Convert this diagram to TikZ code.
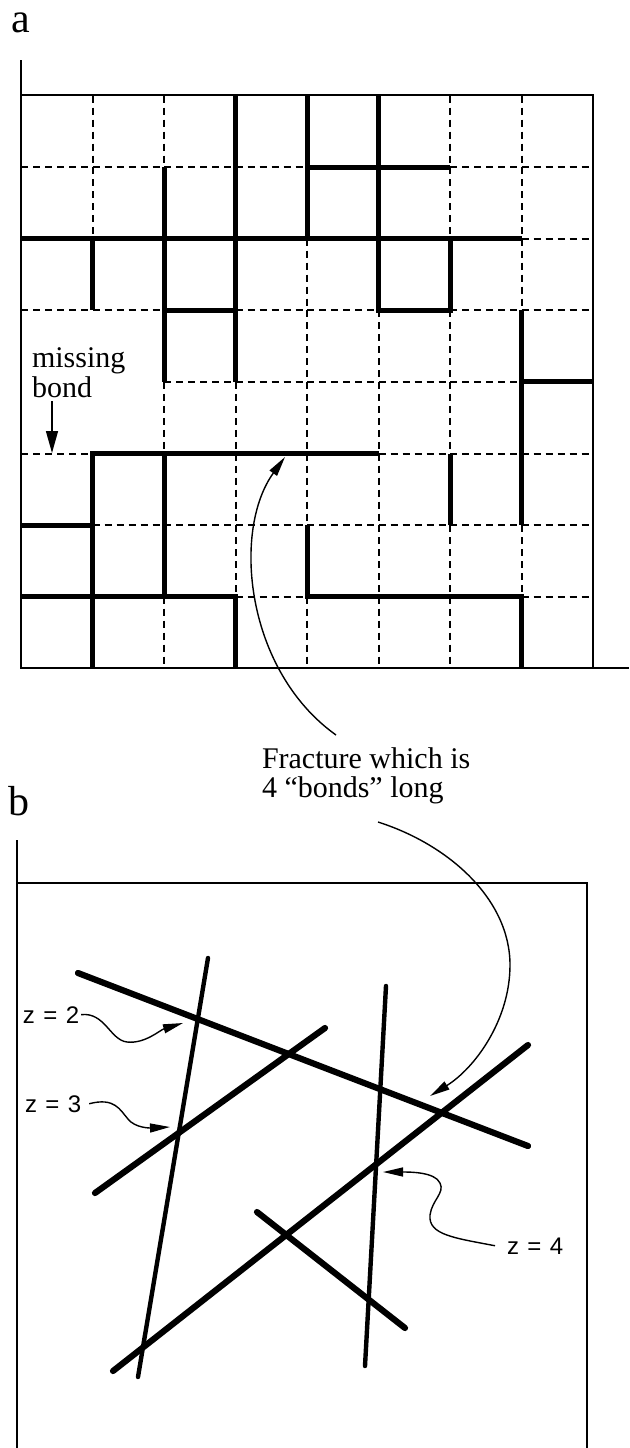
\documentclass[tikz,border=0pt]{standalone}
\usepackage{fontspec}
\setmainfont{Liberation Serif}
\newfontfamily\zfont{Liberation Sans}
\usetikzlibrary{arrows.meta}
\begin{document}
\begin{tikzpicture}[x=1pt,y=-1pt,
  frame/.style={line width=2pt},
  gdash/.style={line width=2pt, dash pattern=on 7pt off 5pt},
  gthick/.style={line width=5pt, line cap=butt, line join=miter},
  fbar/.style={line width=6.2pt, line cap=round},
  fthin/.style={line width=4.4pt, line cap=round},
  lead/.style={line width=1.4pt, -{Triangle[length=20pt,width=9pt]}},
  lab/.style={inner sep=0pt, outer sep=0pt, anchor=base west},
  big/.style={lab, font=\fontsize{42}{42}\selectfont},
  serif/.style={lab, font=\fontsize{30}{30}\selectfont},
  zlab/.style={lab, font=\zfont\fontsize{24}{24}\selectfont}
]
\useasboundingbox (0,0) rectangle (629,1448);

% ---------------- panel a ----------------
\node[big] (la) at (12,32) {a};
\draw[frame] (21,60) -- (21,668) -- (629,668);
\draw[frame] (21,95) -- (593,95) -- (593,668);

\begin{scope}[shift={(21pt,-95.5pt)}, x=71.5pt, y=-71.6pt]
  \foreach \i/\j in {0/1,1/1,2/1,3/1,6/1,7/1, 7/2, 0/3,1/3,3/3,4/3,6/3,7/3,
                     2/4,3/4,4/4,5/4,6/4, 0/5,5/5,6/5,7/5,
                     1/6,2/6,3/6,4/6,5/6,6/6,7/6, 3/7,7/7}
    \draw[gdash] (\i,\j) -- ++(1,0);
  \foreach \i/\j in {1/0,1/1, 2/0,2/4,2/7, 3/4,3/5,3/6, 4/2,4/3,4/4,4/5,4/7,
                     5/3,5/4,5/5,5/6,5/7, 6/0,6/1,6/3,6/4,6/6,6/7, 7/0,7/1,7/2,7/6}
    \draw[gdash] (\i,\j) -- ++(0,1);
  \draw[gthick] (4,1) -- (6,1);
  \draw[gthick] (0,2) -- (7,2);
  \draw[gthick] (2,3) -- (3,3);
  \draw[gthick] (5,0) -- (5,3) -- (6,3) -- (6,2);
  \draw[gthick] (7,3) -- (7,6);
  \draw[gthick] (7,4) -- (8,4);
  \draw[gthick] (1,8) -- (1,5) -- (5,5);
  \draw[gthick] (0,6) -- (1,6);
  \draw[gthick] (0,7) -- (3,7) -- (3,8);
  \draw[gthick] (4,6) -- (4,7) -- (7,7) -- (7,8);
  \draw[gthick] (1,2) -- (1,3);
  \draw[gthick] (2,1) -- (2,4);
  \draw[gthick] (2,5) -- (2,7);
  \draw[gthick] (3,0) -- (3,4);
  \draw[gthick] (4,0) -- (4,2);
  \draw[gthick] (6,5) -- (6,6);
\end{scope}

\node[serif] (mb1) at (32,367) {missing};
\node[serif] (mb2) at (32,397) {bond};
\coordinate (mbs) at (52,401);
\coordinate (mbt) at (52,453);
\draw[line width=1.4pt, -{Triangle[length=22pt,width=12pt]}] (mbs) -- (mbt);

% fracture label
\node[serif] (fr1) at (262,768) {Fracture which is};
\node[serif] (fr2) at (262,797) {4 “bonds” long};
\coordinate (fa0) at (336,735);
\coordinate (fa1) at (285,457);
\draw[lead] (fa0) .. controls (245,670) and (232,530) .. (fa1);
\coordinate (fb0) at (378,822);
\coordinate (fb1) at (430,1096);
\draw[lead] (fb0) .. controls (450,845) and (510,900) .. (510,965)
               .. controls (510,1020) and (475,1068) .. (fb1);

% ---------------- panel b ----------------
\node[big] (lb) at (9,815) {b};
\draw[frame] (17,840) -- (17,1448);
\draw[frame] (17,883) -- (587,883) -- (587,1448);

\draw[fbar]  (78,973)  -- (528,1146);  % A
\draw[fthin] (208,958) -- (138,1377);  % B
\draw[fbar]  (95,1193) -- (325,1028);  % C
\draw[fbar]  (113,1371) -- (528,1045); % D
\draw[fthin] (386,986) -- (365,1366);  % E
\draw[fbar]  (257,1212) -- (405,1328); % F

\node[zlab] (z2) at (23,1023) {z\hspace{0.35em}=\hspace{0.35em}2};
\node[zlab] (z3) at (25,1112) {z\hspace{0.35em}=\hspace{0.35em}3};
\node[zlab] (z4) at (507,1254) {z\hspace{0.35em}=\hspace{0.35em}4};
\coordinate (t2) at (183,1023);
\coordinate (t3) at (170,1127);
\coordinate (t4) at (383,1172);
\draw[lead] ([xshift=2pt]z2.east) .. controls (105,1012) and (110,1040) .. (127,1042)
            .. controls (145,1044) and (160,1030) .. (t2);
\draw[lead] ([xshift=8pt]z3.east) .. controls (115,1097) and (120,1110) .. (128,1119)
            .. controls (135,1128) and (150,1128) .. (t3);
\draw[lead] ([xshift=-12pt]z4.west) .. controls (455,1238) and (428,1235) .. (430,1215)
            .. controls (432,1200) and (445,1193) .. (440,1183)
            .. controls (435,1172) and (410,1172) .. (t4);
\end{tikzpicture}
\end{document}
